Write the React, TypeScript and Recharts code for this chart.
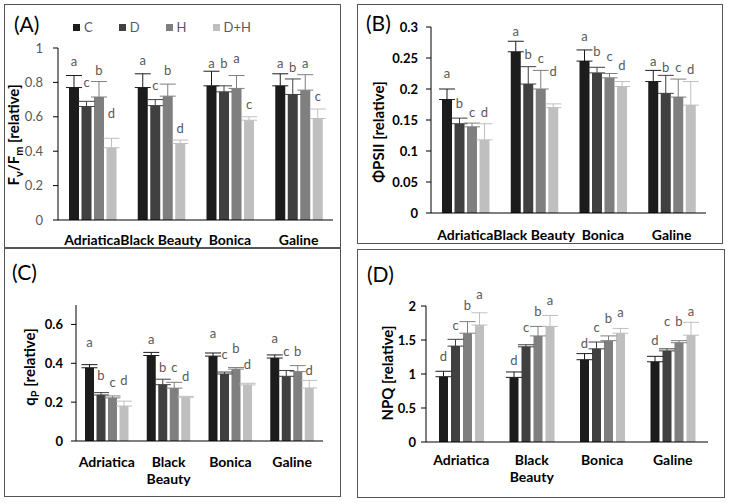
import React from "react";
import { Bar, BarChart, ErrorBar, LabelList, XAxis, YAxis } from "recharts";

const cultivars = ["Adriatica", "Black Beauty", "Bonica", "Galine"];
const treatments = ["C", "D", "H", "D+H"];
const treatmentColors = ["#1c1c1c", "#404040", "#7f7f7f", "#bfbfbf"];

// rows = treatments (C, D, H, D+H), columns = cultivars
const fvfmMean = [
  [0.77, 0.77, 0.78, 0.78],
  [0.66, 0.665, 0.745, 0.73],
  [0.715, 0.72, 0.765, 0.755],
  [0.42, 0.445, 0.58, 0.59],
];
const fvfmErr = [
  [0.07, 0.08, 0.085, 0.07],
  [0.03, 0.035, 0.035, 0.09],
  [0.09, 0.07, 0.075, 0.09],
  [0.055, 0.02, 0.02, 0.055],
];
const fvfmLetters = [
  ["a", "a", "a", "a"],
  ["c", "c", "b", "b"],
  ["b", "b", "a", "a"],
  ["d", "d", "c", "c"],
];
const fvfmLetterLevel = [
  [0.92, 0.93, 0.91, 0.91],
  [0.8, 0.785, 0.91, 0.885],
  [0.87, 0.87, 0.94, 0.91],
  [0.62, 0.53, 0.67, 0.72],
];

const phiMean = [
  [0.183, 0.26, 0.245, 0.212],
  [0.144, 0.208, 0.226, 0.193],
  [0.139, 0.2, 0.218, 0.187],
  [0.118, 0.17, 0.204, 0.174],
];
const phiErr = [
  [0.017, 0.017, 0.018, 0.018],
  [0.009, 0.028, 0.009, 0.029],
  [0.006, 0.03, 0.007, 0.029],
  [0.026, 0.006, 0.008, 0.038],
];
const phiLetters = [
  ["a", "a", "a", "a"],
  ["b", "b", "b", "b"],
  ["c", "c", "c", "c"],
  ["d", "d", "d", "d"],
];
const phiLetterLevel = [
  [0.225, 0.293, 0.284, 0.245],
  [0.176, 0.255, 0.261, 0.234],
  [0.162, 0.25, 0.253, 0.234],
  [0.162, 0.228, 0.238, 0.232],
];

const qpMean = [
  [0.377, 0.44, 0.437, 0.427],
  [0.237, 0.29, 0.345, 0.333],
  [0.222, 0.272, 0.37, 0.357],
  [0.18, 0.225, 0.289, 0.273],
];
const qpErr = [
  [0.016, 0.016, 0.016, 0.016],
  [0.012, 0.028, 0.01, 0.03],
  [0.01, 0.03, 0.008, 0.031],
  [0.025, 0.005, 0.008, 0.039],
];
const qpLetters = [
  ["a", "a", "a", "a"],
  ["b", "b", "c", "c"],
  ["c", "c", "b", "b"],
  ["d", "d", "d", "d"],
];
const qpLetterLevel = [
  [0.509, 0.521, 0.555, 0.527],
  [0.338, 0.378, 0.446, 0.463],
  [0.299, 0.378, 0.475, 0.463],
  [0.313, 0.333, 0.395, 0.361],
];

const npqMean = [
  [0.96, 0.95, 1.21, 1.18],
  [1.41, 1.4, 1.37, 1.34],
  [1.6, 1.56, 1.49, 1.46],
  [1.72, 1.7, 1.6, 1.57],
];
const npqErr = [
  [0.08, 0.08, 0.09, 0.08],
  [0.1, 0.03, 0.1, 0.03],
  [0.17, 0.14, 0.07, 0.03],
  [0.18, 0.16, 0.07, 0.19],
];
const npqLetters = [
  ["d", "d", "d", "d"],
  ["c", "c", "c", "c"],
  ["b", "b", "b", "b"],
  ["a", "a", "a", "a"],
];
const npqLetterLevel = [
  [1.26, 1.2, 1.45, 1.5],
  [1.72, 1.69, 1.69, 1.77],
  [2.01, 1.92, 1.82, 1.77],
  [2.17, 2.08, 1.91, 1.92],
];

const FONT = "Lato, 'Open Sans', sans-serif";
const Y_W = 50;
const X_H = 20;

function buildRows(mean: number[][], err: number[][]) {
  return cultivars.map((name, i) => {
    const r: any = { name };
    treatments.forEach((_, k) => {
      r[`m${k}`] = mean[k][i];
      r[`e${k}`] = [0, err[k][i]];
    });
    return r;
  });
}

// significance letter, placed at its level using the bar's own value/pixel ratio
function letterContent(k: number, mean: number[][], letters: string[][], levels: number[][]) {
  return (p: any) => {
    const vb = p.viewBox ?? p;
    const x = Number(vb.x ?? p.x);
    const y = Number(vb.y ?? p.y);
    const w = Number(vb.width ?? p.width);
    const h = Number(vb.height ?? p.height);
    const i = p.index;
    if (i == null || !h) return null;
    const v = mean[k][i];
    const base = y + h;
    const ly = base - (levels[k][i] * h) / v;
    return (
      <text
        x={x + w / 2}
        y={ly}
        dy="0.35em"
        textAnchor="middle"
        fontSize={13}
        fill="#595959"
        style={{ fill: "#595959" }}
      >
        {letters[k][i]}
      </text>
    );
  };
}

function Panel({ cfg, mean, err, letters, levels }: any) {
  const { box, plot } = cfg;
  const rows = buildRows(mean, err);
  const margin = {
    top: plot.top - box.y,
    right: box.x + box.w - plot.right,
    bottom: box.y + box.h - plot.bottom - X_H,
    left: plot.left - box.x - Y_W,
  };
  const CatTick = (p: any) => {
    const words = cfg.wrap ? String(p.payload.value).split(" ") : [String(p.payload.value)];
    return (
      <text x={p.x} y={p.y + cfg.xLabelDy} textAnchor="middle" fontSize={14} fontWeight={700} fill="#000">
        {words.map((w: string, i: number) => (
          <tspan key={i} x={p.x} dy={i === 0 ? "0.35em" : 17}>
            {w}
          </tspan>
        ))}
      </text>
    );
  };
  const YLabel = () => {
    const cx = cfg.yLabel.x - box.x;
    const cy = cfg.yLabel.y - box.y;
    return (
      <text
        x={cx}
        y={cy}
        transform={`rotate(-90 ${cx} ${cy})`}
        textAnchor="middle"
        dy="0.35em"
        fontSize={15}
        fontWeight={700}
        fill="#000"
      >
        {cfg.yLabel.parts.map((part: any, i: number) =>
          part.sub ? (
            <tspan key={i} fontSize={11} dy={4}>
              {part.t}
            </tspan>
          ) : (
            <tspan key={i} dy={i > 0 && cfg.yLabel.parts[i - 1].sub ? -4 : 0}>
              {part.t}
            </tspan>
          )
        )}
      </text>
    );
  };
  return (
    <>
      <div
        style={{
          position: "absolute",
          left: box.x,
          top: box.y,
          width: box.w,
          height: box.h,
          border: "1px solid #555",
          boxSizing: "border-box",
        }}
      />
      <div
        style={{
          position: "absolute",
          left: cfg.tag.x,
          top: cfg.tag.y,
          fontSize: 21,
          lineHeight: "22px",
          color: "#000",
        }}
      >
        {cfg.tag.text}
      </div>
      <div style={{ position: "absolute", left: box.x, top: box.y }}>
        <BarChart
          width={box.w}
          height={box.h}
          data={rows}
          margin={margin}
          barSize={cfg.barSize}
          barGap={cfg.barGap}
        >
          <XAxis
            dataKey="name"
            height={X_H}
            interval={0}
            tickLine={false}
            tickSize={0}
            tickMargin={0}
            axisLine={{ stroke: "#000" }}
            tick={<CatTick />}
          />
          <YAxis
            width={Y_W}
            domain={cfg.domain}
            ticks={cfg.ticks}
            interval={0}
            tickSize={5}
            tickMargin={cfg.tickMargin}
            axisLine={{ stroke: "#000" }}
            tickLine={{ stroke: "#000" }}
            tick={{
              fill: cfg.tickBold ? "#000" : "#595959",
              fontSize: 13,
              fontWeight: cfg.tickBold ? 700 : 400,
            }}
            label={YLabel}
          />
          {treatments.map((t, k) => (
            <Bar key={t} dataKey={`m${k}`} name={t} fill={treatmentColors[k]} isAnimationActive={false}>
              <ErrorBar
                dataKey={`e${k}`}
                width={8}
                strokeWidth={1}
                stroke={treatmentColors[k]}
                direction="y"
                isAnimationActive={false}
              />
              <LabelList dataKey={`m${k}`} content={letterContent(k, mean, letters, levels)} />
            </Bar>
          ))}
        </BarChart>
      </div>
    </>
  );
}

const panelA = {
  box: { x: 4, y: 4, w: 337, h: 244 },
  plot: { left: 58, right: 333, top: 48, bottom: 220 },
  domain: [0, 1],
  ticks: [0, 0.2, 0.4, 0.6, 0.8, 1],
  tickBold: false,
  tickMargin: 10,
  xLabelDy: 20,
  wrap: false,
  barSize: 10,
  barGap: 2.5,
  tag: { text: "(A)", x: 14, y: 13 },
  yLabel: {
    x: 19,
    y: 135,
    parts: [{ t: "F" }, { t: "v", sub: true }, { t: "/F" }, { t: "m", sub: true }, { t: " [relative]" }],
  },
};

const panelB = {
  box: { x: 357, y: 4, w: 366, h: 240 },
  plot: { left: 431, right: 706, top: 27, bottom: 213 },
  domain: [0, 0.3],
  ticks: [0, 0.05, 0.1, 0.15, 0.2, 0.25, 0.3],
  tickBold: true,
  tickMargin: 8,
  xLabelDy: 22,
  wrap: false,
  barSize: 10,
  barGap: 2.5,
  tag: { text: "(B)", x: 366, y: 12 },
  yLabel: { x: 384, y: 132, parts: [{ t: "ΦPSII [relative]" }] },
};

const panelC = {
  box: { x: 4, y: 248, w: 337, h: 249 },
  plot: { left: 76, right: 323, top: 305, bottom: 441 },
  domain: [0, 0.7],
  ticks: [0, 0.2, 0.4, 0.6],
  tickBold: true,
  tickMargin: 8,
  xLabelDy: 21,
  wrap: true,
  barSize: 9,
  barGap: 2.5,
  tag: { text: "(C)", x: 12, y: 261 },
  yLabel: {
    x: 35,
    y: 367,
    parts: [{ t: "q" }, { t: "P", sub: true }, { t: " [relative]" }],
  },
};

const panelD = {
  box: { x: 357, y: 249, w: 368, h: 249 },
  plot: { left: 426, right: 708, top: 306, bottom: 442 },
  domain: [0, 2],
  ticks: [0, 0.5, 1, 1.5, 2],
  tickBold: true,
  tickMargin: 5,
  xLabelDy: 18,
  wrap: true,
  barSize: 9,
  barGap: 3,
  tag: { text: "(D)", x: 367, y: 263 },
  yLabel: { x: 393, y: 373, parts: [{ t: "NPQ [relative]" }] },
};

function LegendA() {
  return (
    <div
      style={{
        position: "absolute",
        left: 73,
        top: 19,
        display: "flex",
        fontSize: 13,
        color: "#595959",
        lineHeight: "16px",
      }}
    >
      {treatments.map((t, k) => (
        <div key={t} style={{ display: "flex", alignItems: "center", marginRight: 26 }}>
          <span
            style={{ width: 7, height: 7, background: treatmentColors[k], marginRight: 4, display: "inline-block" }}
          />
          <span>{t}</span>
        </div>
      ))}
    </div>
  );
}

export default function App() {
  return (
    <div
      style={{
        position: "absolute",
        left: 0,
        top: 0,
        width: 730,
        height: 503,
        background: "#fff",
        fontFamily: FONT,
      }}
    >
      <Panel cfg={panelA} mean={fvfmMean} err={fvfmErr} letters={fvfmLetters} levels={fvfmLetterLevel} />
      <Panel cfg={panelB} mean={phiMean} err={phiErr} letters={phiLetters} levels={phiLetterLevel} />
      <Panel cfg={panelC} mean={qpMean} err={qpErr} letters={qpLetters} levels={qpLetterLevel} />
      <Panel cfg={panelD} mean={npqMean} err={npqErr} letters={npqLetters} levels={npqLetterLevel} />
      <LegendA />
    </div>
  );
}
